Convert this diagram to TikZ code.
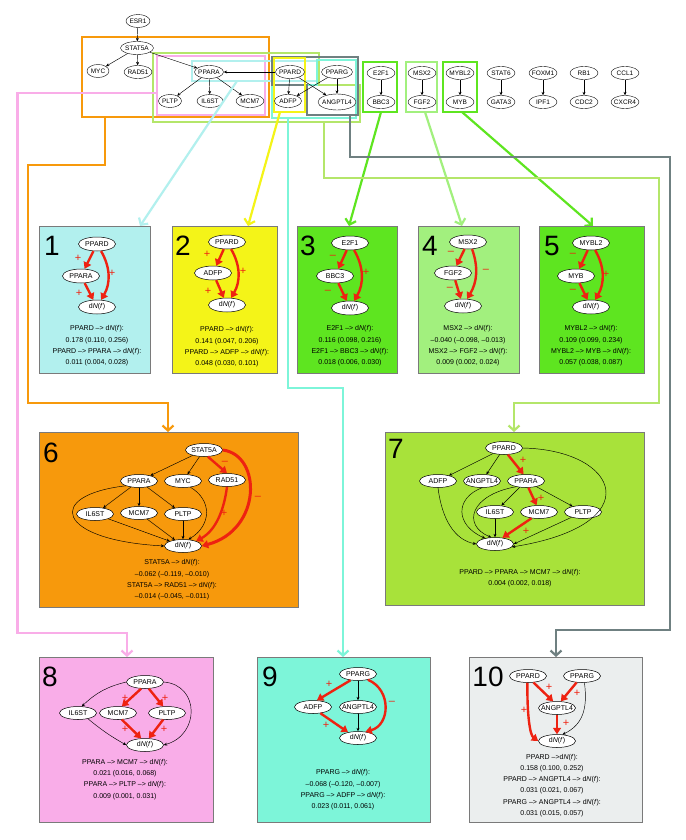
\documentclass[tikz,border=0pt]{standalone}
\usepackage{fontspec}
\setmainfont{Liberation Sans}
\usetikzlibrary{arrows.meta,shapes.geometric}
\definecolor{cCy}{HTML}{B2F0EE}
\definecolor{cYe}{HTML}{F4F418}
\definecolor{cGr}{HTML}{5EE520}
\definecolor{cLG}{HTML}{A2F07E}
\definecolor{cOr}{HTML}{F7990C}
\definecolor{cYG}{HTML}{A8E23A}
\definecolor{cYGf}{HTML}{B4E66A}
\definecolor{cPk}{HTML}{F9ADE8}
\definecolor{cAq}{HTML}{7DF5D9}
\definecolor{cGy}{HTML}{6F8081}
\definecolor{cGyf}{HTML}{EBEEEE}
\definecolor{redc}{HTML}{EE2211}
\definecolor{boxb}{HTML}{7A7A7A}
\newcommand{\mydNf}{d\textit{N}(\textit{f})}
\newcommand{\ar}{\textendash>}
\tikzset{
 zerow/.style={execute at begin node={\hbox to 0pt\bgroup\hss}, execute at end node={\hss\egroup}},
 gn/.style={ellipse, draw, fill=white, line width=0.4pt, inner sep=0pt, zerow, minimum width=28pt, minimum height=13pt, font=\fontsize{6.5}{7}\selectfont},
 bn/.style={ellipse, draw, fill=white, line width=0.5pt, inner sep=0pt, zerow, minimum width=37pt, minimum height=14pt, font=\fontsize{7}{8}\selectfont},
 ka/.style={-{Stealth[length=3.4pt,width=3pt]}, line width=0.45pt},
 ra/.style={-{Triangle[length=6.5pt,width=8pt]}, line width=2.4pt, draw=redc},
 pm/.style={text=redc, font=\fontsize{11}{11}\selectfont, inner sep=0pt},
 boxs/.style={draw=boxb, line width=0.7pt},
 num/.style={font=\fontsize{28}{28}\selectfont, inner sep=0pt},
 txt/.style={font=\fontsize{7}{11.3}\selectfont, align=center, inner sep=0pt},
 conn/.style={line width=2.2pt, -{Straight Barb[length=5pt,width=11pt]}},
 frm/.style={line width=2pt}
}
\begin{document}
\begin{tikzpicture}[x=1pt,y=-1pt]
\useasboundingbox (0,0) rectangle (685,840);
\fill[white] (0,0) rectangle (685,840);

% ---------- frames in the overview ----------
\draw[frm, draw=cOr] (82,37) rectangle (269,117);
\draw[frm, draw=cYGf] (153,53) -- (319,53) -- (319,85) -- (360,85) -- (360,122) -- (153,122) -- cycle;
\draw[frm, draw=cPk] (157,56) rectangle (265,115);
\draw[frm, draw=cCy] (192,61) rectangle (317,81);
\draw[frm, draw=cAq] (317,60) -- (356,60) -- (356,118) -- (272,118) -- (272,85) -- (317,85) -- cycle;
\draw[frm, draw=cGy] (272,57) -- (358,57) -- (358,115) -- (307,115) -- (307,85) -- (272,85) -- cycle;
\draw[frm, draw=cYe] (274,58) rectangle (305,112);
\draw[frm, draw=cGr] (363,62) rectangle (397,112);
\draw[frm, draw=cLG] (406,62) rectangle (437,112);
\draw[frm, draw=cGr] (443,62) rectangle (477,112);

% ---------- overview graph ----------
\node[gn, minimum width=24pt] (tESR1) at (138,21) {ESR1};
\node[gn, minimum width=33pt] (tSTAT5A) at (137,48) {STAT5A};
\node[gn, minimum width=22pt] (tMYC) at (98,71) {MYC};
\node[gn, minimum width=28pt] (tRAD51) at (138,72) {RAD51};
\node[gn, minimum width=29pt] (tPPARA) at (209,72) {PPARA};
\node[gn, minimum width=23pt] (tPLTP) at (170,101) {PLTP};
\node[gn, minimum width=26pt] (tIL6ST) at (210,101) {IL6ST};
\node[gn, minimum width=28pt] (tMCM7) at (250,101) {MCM7};
\node[gn, minimum width=29pt] (tPPARD) at (290,72) {PPARD};
\node[gn, minimum width=31pt] (tPPARG) at (337,72) {PPARG};
\node[gn, minimum width=27pt] (tADFP) at (288,101) {ADFP};
\node[gn, minimum width=38pt, minimum height=16pt] (tANG) at (337,102) {ANGPTL4};
\draw[ka] (tESR1) -- (tSTAT5A);
\draw[ka] (tSTAT5A) -- (tMYC);
\draw[ka] (tSTAT5A) -- (tRAD51);
\draw[ka] (tSTAT5A) -- (tPPARA);
\draw[ka] (tPPARA) -- (tPLTP);
\draw[ka] (tPPARA) -- (tIL6ST);
\draw[ka] (tPPARA) -- (tMCM7);
\draw[ka] (tPPARD) -- (tPPARA);
\draw[ka] (tPPARD) -- (tADFP);
\draw[ka] (tPPARD) -- (tANG);
\draw[ka] (tPPARG) -- (tADFP);
\draw[ka] (tPPARG) -- (tANG);
\foreach \x/\a/\b/\n in {381/E2F1/BBC3/a, 422/MSX2/FGF2/b, 460/MYBL2/MYB/c, 501/STAT6/GATA3/d, 543/FOXM1/IPF1/e, 584/RB1/CDC2/f, 625/CCL1/CXCR4/g}{
  \node[gn] (u\n) at (\x,73) {\a};
  \node[gn] (v\n) at (\x,102) {\b};
  \draw[ka] (u\n) -- (v\n);
}

% ---------- connectors ----------
\coordinate (s1) at (237,81);  \coordinate (e1) at (140,226);
\coordinate (s2) at (280,112); \coordinate (e2) at (248,226);
\coordinate (s3) at (381,112); \coordinate (e3) at (349,226);
\coordinate (s4) at (425,112); \coordinate (e4) at (462,226);
\coordinate (s5) at (462,112); \coordinate (e5) at (593,226);
\coordinate (s6) at (105,117); \coordinate (e6) at (168,432);
\coordinate (s7) at (324,122); \coordinate (e7) at (514,432);
\coordinate (s8) at (157,93);  \coordinate (e8) at (127,657);
\coordinate (s9) at (288,118); \coordinate (e9) at (343,657);
\coordinate (s10) at (350,115); \coordinate (e10) at (556,657);
\draw[conn, draw=cCy] (s1) -- (e1);
\draw[conn, draw=cYe] (s2) -- (e2);
\draw[conn, draw=cGr] (s3) -- (e3);
\draw[conn, draw=cLG] (s4) -- (e4);
\draw[conn, draw=cGr] (s5) -- (e5);
\draw[conn, draw=cOr] (s6) -- (105,165) -- (28,165) -- (28,403) -- (168,403) -- (e6);
\draw[conn, draw=cYGf] (s7) -- (324,178) -- (659,178) -- (659,403) -- (514,403) -- (e7);
\draw[conn, draw=cPk] (s8) -- (17.5,93) -- (17.5,633) -- (127,633) -- (e8);
\draw[conn, draw=cAq] (s9) -- (288,388) -- (343,388) -- (e9);
\draw[conn, draw=cGy] (s10) -- (350,157) -- (670,157) -- (670,630) -- (556,630) -- (e10);

% ---------- boxes ----------
\draw[boxs, fill=cCy] (39,226) rectangle (150,373);
\draw[boxs, fill=cYe] (172,226) rectangle (277,373);
\draw[boxs, fill=cGr] (297,226) rectangle (397,373);
\draw[boxs, fill=cLG] (418,226) rectangle (519,373);
\draw[boxs, fill=cGr] (539,226) rectangle (644,373);
\draw[boxs, fill=cOr] (39,432) rectangle (298,607);
\draw[boxs, fill=cYG] (385,432) rectangle (644,605);
\draw[boxs, fill=cPk] (39,657) rectangle (213,822);
\draw[boxs, fill=cAq] (257,657) rectangle (430,822);
\draw[boxs, fill=cGyf] (469,657) rectangle (642,822);

\node[num] (n1) at (52,246) {1};
\node[num] (n2) at (183,246) {2};
\node[num] (n3) at (308,246) {3};
\node[num] (n4) at (430,246) {4};
\node[num] (n5) at (552,246) {5};
\node[num] (n6) at (51,453) {6};
\node[num] (n7) at (396,449) {7};
\node[num] (n8) at (50,677) {8};
\node[num] (n9) at (270,677) {9};
\node[num] (n10) at (488,677) {10};

% ---------- box 1 ----------
\node[bn] (a1) at (97,244) {PPARD};
\node[bn] (b1) at (81,276) {PPARA};
\node[bn] (c1) at (97,307) {\mydNf};
\draw[ra] (a1) -- (b1);
\draw[ra] (b1) -- (c1);
\draw[ra] (a1.-60) to[bend left=30] (c1.60);
\node[pm] (p1a) at (78,258) {+};
\node[pm] (p1b) at (112,273) {+};
\node[pm] (p1c) at (79,293) {+};
\node[txt] (t1) at (97,346) {PPARD \ar{} \mydNf:\\0.178 (0.110, 0.256)\\PPARD \ar{} PPARA \ar{} \mydNf:\\0.011 (0.004, 0.028)};

% ---------- box 2 ----------
\node[bn] (a2) at (227,242) {PPARD};
\node[bn] (b2) at (213,273) {ADFP};
\node[bn] (c2) at (227,305) {\mydNf};
\draw[ra] (a2) -- (b2);
\draw[ra] (b2) -- (c2);
\draw[ra] (a2.-60) to[bend left=30] (c2.60);
\node[pm] (p2a) at (207,254) {+};
\node[pm] (p2b) at (243,271) {+};
\node[pm] (p2c) at (208,291) {+};
\node[txt] (t2) at (227,347) {PPARD \ar{} \mydNf:\\0.141 (0.047, 0.206)\\PPARD \ar{} ADFP \ar{} \mydNf:\\0.048 (0.030, 0.101)};

% ---------- box 3 ----------
\node[bn] (a3) at (350,243) {E2F1};
\node[bn] (b3) at (335,276) {BBC3};
\node[bn] (c3) at (350,308) {\mydNf};
\draw[ra] (a3) -- (b3);
\draw[ra] (b3) -- (c3);
\draw[ra] (a3.-60) to[bend left=30] (c3.60);
\node[pm] (p3a) at (333,257) {\textendash};
\node[pm] (p3b) at (366,272) {+};
\node[pm] (p3c) at (328,292) {\textendash};
\node[txt] (t3) at (350,346) {E2F1 \ar{} \mydNf:\\0.116 (0.098, 0.216)\\E2F1 \ar{} BBC3 \ar{} \mydNf:\\0.018 (0.006, 0.030)};

% ---------- box 4 ----------
\node[bn] (a4) at (468,242) {MSX2};
\node[bn] (b4) at (453,273) {FGF2};
\node[bn] (c4) at (463,306) {\mydNf};
\draw[ra] (a4) -- (b4);
\draw[ra] (b4) -- (c4);
\draw[ra] (a4.-60) to[bend left=25] (c4.60);
\node[pm] (p4a) at (451,253) {\textendash};
\node[pm] (p4b) at (486,271) {\textendash};
\node[pm] (p4c) at (450,289) {\textendash};
\node[txt] (t4) at (468,346) {MSX2 \ar{} \mydNf:\\\textendash0.040 (\textendash0.098, \textendash0.013)\\MSX2 \ar{} FGF2 \ar{} \mydNf:\\0.009 (0.002, 0.024)};

% ---------- box 5 ----------
\node[bn] (a5) at (591,243) {MYBL2};
\node[bn] (b5) at (576,276) {MYB};
\node[bn] (c5) at (591,307) {\mydNf};
\draw[ra] (a5) -- (b5);
\draw[ra] (b5) -- (c5);
\draw[ra] (a5.-60) to[bend left=30] (c5.60);
\node[pm] (p5a) at (573,255) {\textendash};
\node[pm] (p5b) at (606,274) {+};
\node[pm] (p5c) at (573,291) {\textendash};
\node[txt] (t5) at (591,346) {MYBL2 \ar{} \mydNf:\\0.109 (0.099, 0.234)\\MYBL2 \ar{} MYB \ar{} \mydNf:\\0.057 (0.038, 0.087)};

% ---------- box 6 ----------
\node[bn, minimum height=13pt] (a6) at (204,450) {STAT5A};
\node[bn, minimum height=13pt] (b6) at (139,481) {PPARA};
\node[bn, minimum height=13pt] (c6) at (183,481) {MYC};
\node[bn, minimum height=13pt] (d6) at (227,480) {RAD51};
\node[bn, minimum height=13pt] (e6n) at (95,514) {IL6ST};
\node[bn, minimum height=13pt] (f6) at (139,513) {MCM7};
\node[bn, minimum height=13pt] (g6) at (183,514) {PLTP};
\node[bn, minimum height=13pt] (h6) at (183,546) {\mydNf};
\draw[ka] (a6) -- (b6);
\draw[ka] (a6) -- (c6);
\draw[ka] (b6) -- (e6n);
\draw[ka] (b6) -- (f6);
\draw[ka] (b6) -- (g6);
\draw[ka] (e6n) -- (h6);
\draw[ka] (f6) -- (h6);
\draw[ka] (g6) -- (h6);
\draw[ka] (b6.200) .. controls (45,495) and (55,540) .. (h6.west);
\draw[ka] (c6.-40) .. controls (212,500) and (212,525) .. (h6.50);
\draw[ra] (a6.-60) -- (d6.north);
\draw[ra] (d6.south) .. controls (224,510) and (216,530) .. (h6.20);
\draw[ra, line width=3pt] (a6.east) .. controls (262,455) and (262,530) .. (h6.east);
\node[pm] (p6a) at (225,463) {\textendash};
\node[pm] (p6b) at (224,513) {+};
\node[pm] (p6c) at (258,498) {\textendash};
\node[txt] (t6) at (172,580) {STAT5A \ar{} \mydNf:\\\textendash0.062 (\textendash0.119, \textendash0.010)\\STAT5A \ar{} RAD51 \ar{} \mydNf:\\\textendash0.014 (\textendash0.045, \textendash0.011)};

% ---------- box 7 ----------
\node[bn, minimum height=13pt] (a7) at (504,448) {PPARD};
\node[bn, minimum height=13pt] (b7) at (438,481) {ADFP};
\node[bn, minimum height=13pt] (c7) at (482,481) {ANGPTL4};
\node[bn, minimum height=13pt] (d7) at (526,481) {PPARA};
\node[bn, minimum height=13pt] (e7n) at (495,512) {IL6ST};
\node[bn, minimum height=13pt] (f7) at (539,512) {MCM7};
\node[bn, minimum height=13pt] (g7) at (583,512) {PLTP};
\node[bn, minimum height=13pt] (h7) at (495,544) {\mydNf};
\draw[ka] (a7) -- (b7);
\draw[ka] (a7) -- (c7);
\draw[ka] (d7) -- (e7n);
\draw[ka] (d7) -- (g7);
\draw[ka] (e7n) -- (h7);
\draw[ka] (g7) -- (h7.east);
\draw[ka] (a7.east) .. controls (620,450) and (650,525) .. (h7.-10);
\draw[ka] (d7.210) .. controls (470,495) and (462,525) .. (h7.120);
\draw[ka] (c7.south) .. controls (455,498) and (455,525) .. (h7.150);
\draw[ka] (b7.south) .. controls (442,520) and (455,540) .. (h7.west);
\draw[ra] (a7.-60) -- (d7.110);
\draw[ra] (d7.-70) -- (f7.110);
\draw[ra] (f7.220) -- (h7.40);
\node[pm] (p7a) at (523,460) {+};
\node[pm] (p7b) at (541,498) {+};
\node[pm] (p7c) at (526,531) {+};
\node[txt] (t7) at (520,578.5) {PPARD \ar{} PPARA \ar{} MCM7 \ar{} \mydNf:\\0.004 (0.002, 0.018)};

% ---------- box 8 ----------
\node[bn, minimum height=13pt] (a8) at (145,682) {PPARA};
\node[bn, minimum height=13pt] (b8) at (78,713) {IL6ST};
\node[bn, minimum height=13pt] (c8) at (118,713) {MCM7};
\node[bn, minimum height=13pt] (d8) at (167,713) {PLTP};
\node[bn, minimum height=13pt] (h8) at (145,745) {\mydNf};
\draw[ka] (a8.west) to[bend right=15] (b8.60);
\draw[ka] (b8.-30) to[bend right=5] (h8.west);
\draw[ka] (a8.east) .. controls (200,685) and (200,735) .. (h8.east);
\draw[ra] (a8.-120) -- (c8.60);
\draw[ra] (a8.-60) -- (d8.120);
\draw[ra] (c8.-60) -- (h8.120);
\draw[ra] (d8.-120) -- (h8.60);
\node[pm] (p8a) at (125,698) {+};
\node[pm] (p8b) at (165,698) {+};
\node[pm] (p8c) at (125,729) {+};
\node[pm] (p8d) at (164,729) {+};
\node[txt] (t8) at (125,779.5) {PPARA \ar{} MCM7 \ar{} \mydNf:\\0.021 (0.016, 0.068)\\PPARA \ar{} PLTP \ar{} \mydNf:\\0.009 (0.001, 0.031)};

% ---------- box 9 ----------
\node[bn, minimum height=13pt] (a9) at (358,674) {PPARG};
\node[bn, minimum height=13pt] (b9) at (313,707) {ADFP};
\node[bn, minimum height=13pt] (c9) at (358,707) {ANGPTL4};
\node[bn, minimum height=13pt] (h9) at (358,738) {\mydNf};
\draw[ka] (a9) -- (c9);
\draw[ka] (c9) -- (h9);
\draw[ra] (a9.-140) -- (b9.60);
\draw[ra] (b9.-40) -- (h9.150);
\draw[ra] (a9.-30) .. controls (392,690) and (390,725) .. (h9.40);
\node[pm] (p9a) at (329,684) {+};
\node[pm] (p9b) at (326,725) {+};
\node[pm] (p9c) at (392,703) {\textendash};
\node[txt] (t9) at (343,790) {PPARG \ar{} \mydNf:\\\textendash0.068 (\textendash0.120, \textendash0.007)\\PPARG \ar{} ADFP \ar{} \mydNf:\\0.023 (0.011, 0.061)};

% ---------- box 10 ----------
\node[bn, minimum height=13pt] (a10) at (528,676) {PPARD};
\node[bn, minimum height=13pt] (b10) at (582,676) {PPARG};
\node[bn, minimum height=13pt] (c10) at (557,708) {ANGPTL4};
\node[bn, minimum height=13pt] (h10) at (557,741) {\mydNf};
\draw[ra] (a10.-50) -- (c10.120);
\draw[ra] (b10.-130) -- (c10.60);
\draw[ra] (c10) -- (h10);
\draw[ra] (a10.-95) .. controls (527,715) and (530,735) .. (h10.west);
\draw[ka] (b10.-70) .. controls (588,710) and (582,725) .. (h10.50);
\node[pm] (p10a) at (549,687) {+};
\node[pm] (p10b) at (577,693) {+};
\node[pm] (p10c) at (566,723) {+};
\node[pm] (p10d) at (524,710) {+};
\node[txt] (t10) at (552,785.5) {PPARD \ar\mydNf:\\0.158 (0.100, 0.252)\\PPARD \ar{} ANGPTL4 \ar{} \mydNf:\\0.031 (0.021, 0.067)\\PPARG \ar{} ANGPTL4 \ar{} \mydNf:\\0.031 (0.015, 0.057)};
\end{tikzpicture}
\end{document}
